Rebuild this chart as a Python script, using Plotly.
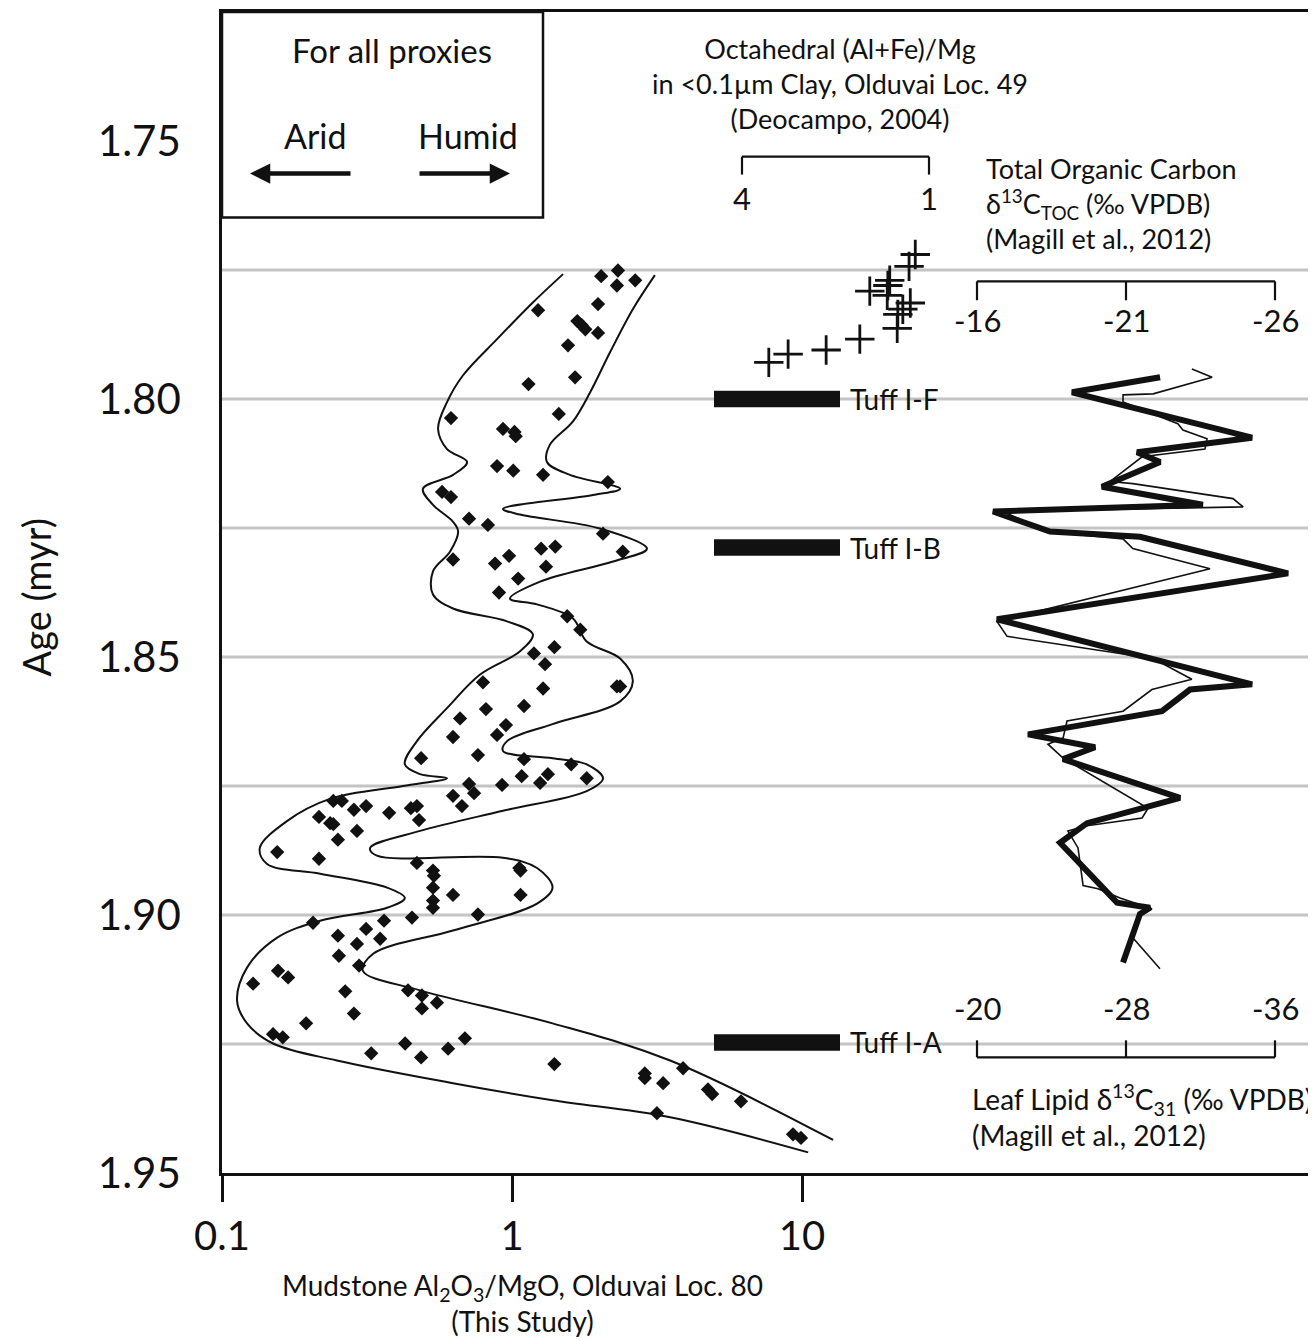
import plotly.graph_objects as go

# ---------------- DATA ----------------
# Mudstone Al2O3/MgO (Olduvai Loc. 80) - scatter
mud_ratio = [2.32, 2.03, 2.66, 2.30, 1.23, 1.98, 1.68, 1.74, 1.79, 1.98,
             1.56, 1.65, 1.14, 1.45, 0.616, 0.931, 1.02, 1.03, 0.888, 1.01,
             1.28, 2.14, 0.574, 0.616, 0.711, 0.826, 2.06, 1.41, 1.26, 2.41,
             0.626, 0.977, 0.874, 1.31, 1.05, 0.902, 1.55, 1.72, 1.40, 1.19,
             1.30, 0.794, 1.28, 2.30, 2.36, 0.813, 1.10, 0.662, 0.953, 0.888,
             0.626, 0.486, 0.763, 1.10, 1.60, 1.81, 1.33, 1.08, 1.25, 0.924,
             0.711, 0.740, 0.626, 0.672, 0.242, 0.259, 0.285, 0.314, 0.377, 0.448,
             0.470, 0.478, 0.216, 0.236, 0.242, 0.292, 0.251, 0.155, 0.216, 0.470,
             0.534, 0.538, 0.534, 0.626, 1.06, 1.07, 1.07, 0.534, 0.534, 0.452,
             0.763, 0.206, 0.362, 0.314, 0.251, 0.351, 0.292, 0.253, 0.297, 0.156,
             0.169, 0.128, 0.266, 0.438, 0.489, 0.551, 0.489, 0.285, 0.195, 0.150,
             0.162, 0.688, 0.428, 0.602, 0.327, 0.486, 1.40, 2.87, 2.87, 3.32,
             3.16, 3.89, 4.74, 4.90, 6.16, 9.31, 9.92]
mud_age = [1.7751, 1.7762, 1.7770, 1.7780, 1.7828, 1.7816, 1.7849, 1.7857, 1.7865, 1.7872,
           1.7896, 1.7958, 1.7971, 1.8029, 1.8037, 1.8058, 1.8064, 1.8072, 1.8130, 1.8139,
           1.8147, 1.8161, 1.8180, 1.8190, 1.8232, 1.8244, 1.8261, 1.8286, 1.8290, 1.8296,
           1.8311, 1.8304, 1.8319, 1.8325, 1.8348, 1.8375, 1.8421, 1.8447, 1.8481, 1.8493,
           1.8514, 1.8549, 1.8561, 1.8557, 1.8557, 1.8601, 1.8595, 1.8619, 1.8632, 1.8651,
           1.8655, 1.8696, 1.8690, 1.8698, 1.8708, 1.8735, 1.8727, 1.8731, 1.8744, 1.8748,
           1.8746, 1.8764, 1.8769, 1.8789, 1.8779, 1.8779, 1.8796, 1.8789, 1.8802, 1.8793,
           1.8789, 1.8816, 1.8810, 1.8822, 1.8824, 1.8837, 1.8854, 1.8878, 1.8891, 1.8899,
           1.8914, 1.8924, 1.8947, 1.8961, 1.8909, 1.8914, 1.8961, 1.8972, 1.8986, 1.9005,
           1.8999, 1.9015, 1.9011, 1.9027, 1.9040, 1.9046, 1.9056, 1.9079, 1.9098, 1.9108,
           1.9121, 1.9133, 1.9148, 1.9146, 1.9156, 1.9170, 1.9181, 1.9191, 1.9210, 1.9231,
           1.9237, 1.9239, 1.9249, 1.9259, 1.9268, 1.9276, 1.9289, 1.9307, 1.9316, 1.9326,
           1.9384, 1.9297, 1.9338, 1.9347, 1.9361, 1.9425, 1.9432]

# Envelope curves around the mudstone data
env_left_ratio = [1.50, 1.18, 0.888, 0.678, 0.597, 0.556, 0.597, 0.700, 0.626, 0.493,
                  0.534, 0.626, 0.652, 0.611, 0.534, 0.534, 0.626, 0.962, 1.18, 1.066,
                  0.776, 0.597, 0.470, 0.427, 0.482, 0.597, 0.421, 0.2355, 0.1675, 0.135,
                  0.143, 0.218, 0.371, 0.427, 0.371, 0.218, 0.155, 0.122, 0.1127, 0.122,
                  0.150, 0.249, 0.626, 1.38, 3.51, 10.5]
env_left_age = [1.7758, 1.7813, 1.7884, 1.7954, 1.8006, 1.8058, 1.8097, 1.8122, 1.8147, 1.8174,
                1.8205, 1.8238, 1.8257, 1.8296, 1.8334, 1.8379, 1.8406, 1.8431, 1.8456, 1.8489,
                1.8534, 1.8599, 1.8663, 1.8708, 1.8727, 1.8735, 1.8750, 1.8775, 1.8818, 1.8870,
                1.8901, 1.8920, 1.8947, 1.8967, 1.8986, 1.9011, 1.9044, 1.9102, 1.9166, 1.9210,
                1.9249, 1.9282, 1.9326, 1.9359, 1.9392, 1.9460]
env_right_ratio = [3.11, 2.61, 2.18, 1.86, 1.62, 1.35, 1.32, 1.585, 2.36, 1.90,
                   0.931, 1.066, 2.01, 2.92, 2.23, 1.25, 0.984, 1.22, 1.62, 1.81,
                   2.36, 2.61, 2.36, 1.38, 0.962, 0.931, 1.38, 1.81, 2.06, 1.81,
                   0.931, 0.482, 0.324, 0.342, 0.931, 1.22, 1.38, 1.22, 0.626, 0.332,
                   0.306, 0.482, 1.38, 3.51, 12.8]
env_right_age = [1.7760, 1.7826, 1.7909, 1.7987, 1.8044, 1.8089, 1.8122, 1.8147, 1.8174, 1.8186,
                 1.8213, 1.8224, 1.8251, 1.8290, 1.8315, 1.8354, 1.8387, 1.8398, 1.8425, 1.8470,
                 1.8503, 1.8547, 1.8586, 1.8630, 1.8663, 1.8682, 1.8696, 1.8708, 1.8735, 1.8760,
                 1.8798, 1.8837, 1.8870, 1.8885, 1.8889, 1.8909, 1.8947, 1.8978, 1.9030, 1.9075,
                 1.9108, 1.9146, 1.9210, 1.9282, 1.9436]

# Octahedral (Al+Fe)/Mg, Olduvai Loc. 49 (Deocampo, 2004)
octa_ratio = [1.22, 1.32, 1.63, 1.66, 1.95, 1.67, 1.30, 1.42, 1.50, 1.51, 2.11, 2.65, 3.26, 3.57]
octa_age = [1.7720, 1.7743, 1.7770, 1.7780, 1.7791, 1.7799, 1.7814, 1.7826, 1.7836, 1.7863,
            1.7884, 1.7905, 1.7913, 1.7929]

# Total organic carbon d13C (thin line)
toc_d13c = [-23.21, -23.89, -21.91, -20.90, -20.90, -22.74, -22.91, -23.72, -23.65, -21.54,
            -20.46, -21.23, -24.59, -24.93, -16.87, -18.35, -20.90, -21.23, -23.82, -16.67,
            -17.01, -21.91, -23.21, -21.87, -20.90, -19.02, -18.89, -18.38, -18.89, -21.74,
            -21.54, -19.69, -19.05, -19.39, -19.56, -20.06, -20.80, -21.87, -21.37, -21.23,
            -22.14]
toc_age = [1.7942, 1.7958, 1.7990, 1.7992, 1.8006, 1.8048, 1.8060, 1.8077, 1.8097, 1.8112,
           1.8160, 1.8164, 1.8193, 1.8209, 1.8218, 1.8257, 1.8271, 1.8290, 1.8329, 1.8431,
           1.8460, 1.8503, 1.8543, 1.8563, 1.8605, 1.8624, 1.8657, 1.8669, 1.8696, 1.8793,
           1.8812, 1.8827, 1.8837, 1.8870, 1.8943, 1.8949, 1.8967, 1.8988, 1.9005, 1.9044,
           1.9104]

# Leaf lipid d13C31 (thick line)
leaf_d13c = [-29.83, -25.10, -34.77, -28.59, -29.83, -26.71, -32.13, -20.86, -23.92, -28.75,
             -36.70, -21.07, -34.77, -31.44, -29.93, -22.74, -26.34, -24.62, -30.90, -25.91,
             -24.46, -27.52, -29.29, -28.75, -27.84]
leaf_age = [1.7958, 1.7987, 1.8075, 1.8103, 1.8122, 1.8170, 1.8205, 1.8218, 1.8257, 1.8267,
            1.8338, 1.8427, 1.8553, 1.8563, 1.8605, 1.8650, 1.8675, 1.8698, 1.8773, 1.8822,
            1.8860, 1.8976, 1.8986, 1.8998, 1.9092]

# Tuffs
tuff_names = ["Tuff I-F", "Tuff I-B", "Tuff I-A"]
tuff_ages = [1.800, 1.8288, 1.9247]

# Axis ticks
age_ticks = [1.75, 1.80, 1.85, 1.90, 1.95]
grid_ages = [1.775, 1.800, 1.825, 1.850, 1.875, 1.900, 1.925]
mud_ticks = [0.1, 1, 10]
mud_tick_text = ["0.1", "1", "10"]
octa_ticks = [4, 1]
toc_ticks = [-16, -21, -26]
leaf_ticks = [-20, -28, -36]

# ---------------- LAYOUT HELPERS ----------------
PAGE_W, PAGE_H = 1316, 1340
PAGE_OFF = 8                     # default body margin of the html page
W, H = PAGE_W - PAGE_OFF, PAGE_H - PAGE_OFF
# plot-area edges in page pixels
L_PX, R_PX, T_PX, B_PX = 222, 1308, 9, 1173
FONT = "Lato"
BLACK = "#111111"


def xp(px):
    return (px - L_PX) / (R_PX - L_PX)


def yp(py):
    return 1 - (py - T_PX) / (B_PX - T_PX)


def lin_range(v_a, px_a, v_b, px_b):
    s = (v_b - v_a) / (px_b - px_a)
    return [v_a + (L_PX - px_a) * s, v_a + (R_PX - px_a) * s]


PX_PER_DECADE = 290.0

fig = go.Figure()

# envelope curves
for xs, ys in ((env_left_ratio, env_left_age), (env_right_ratio, env_right_age)):
    fig.add_trace(go.Scatter(x=xs, y=ys, mode="lines",
                             line=dict(color=BLACK, width=2, shape="spline", smoothing=1.0),
                             xaxis="x", yaxis="y", showlegend=False, hoverinfo="skip"))

fig.add_trace(go.Scatter(x=mud_ratio, y=mud_age, mode="markers",
                         marker=dict(symbol="diamond", size=11, color=BLACK),
                         xaxis="x", yaxis="y", showlegend=False))

fig.add_trace(go.Scatter(x=octa_ratio, y=octa_age, mode="markers",
                         marker=dict(symbol="cross-thin", size=21,
                                     line=dict(color=BLACK, width=2.8)),
                         xaxis="x2", yaxis="y", showlegend=False))

fig.add_trace(go.Scatter(x=toc_d13c, y=toc_age, mode="lines",
                         line=dict(color=BLACK, width=1.6),
                         xaxis="x3", yaxis="y", showlegend=False))

fig.add_trace(go.Scatter(x=leaf_d13c, y=leaf_age, mode="lines",
                         line=dict(color=BLACK, width=6),
                         xaxis="x4", yaxis="y", showlegend=False))

shapes = []
# horizontal gridlines
for a in grid_ages:
    shapes.append(dict(type="line", xref="paper", yref="y", x0=0, x1=1, y0=a, y1=a,
                       line=dict(color="#c4c4c4", width=3), layer="below"))

# legend box
shapes.append(dict(type="rect", xref="paper", yref="paper", x0=xp(L_PX), x1=xp(543),
                   y0=yp(215), y1=yp(T_PX), line=dict(color=BLACK, width=2.5),
                   fillcolor="white", layer="above"))

# tuff bars
for a in tuff_ages:
    shapes.append(dict(type="rect", xref="paper", yref="y", x0=xp(714), x1=xp(840),
                       y0=a - 0.0016, y1=a + 0.0016, line=dict(width=0),
                       fillcolor=BLACK, layer="above"))


def bracket(xref, ticks, y_line, y_tick):
    out = [dict(type="line", xref=xref, yref="paper", x0=ticks[0], x1=ticks[-1],
                y0=yp(y_line), y1=yp(y_line), line=dict(color=BLACK, width=2.2))]
    for t in ticks:
        out.append(dict(type="line", xref=xref, yref="paper", x0=t, x1=t,
                        y0=yp(y_line), y1=yp(y_tick), line=dict(color=BLACK, width=2.2)))
    return out


shapes += bracket("x2", octa_ticks, 154, 172)
shapes += bracket("x3", toc_ticks, 279, 298)
shapes += bracket("x4", leaf_ticks, 1057, 1040)

ann = []


def text(x, y, s, size, xanchor="center", xref="paper", yref="paper", angle=0, align="center"):
    ann.append(dict(x=x, y=y, xref=xref, yref=yref, text=s, showarrow=False,
                    xanchor=xanchor, yanchor="middle", textangle=angle, align=align,
                    font=dict(family=FONT, size=size, color=BLACK)))


text(xp(392), yp(47), "For all proxies", 33)
text(xp(315), yp(133), "Arid", 34)
text(xp(468), yp(133), "Humid", 34)
# arrows
ann.append(dict(x=xp(250), y=yp(171), xref="paper", yref="paper", text="", showarrow=True,
                ax=102, ay=0, arrowhead=2, arrowsize=0.9, arrowwidth=4.5, arrowcolor=BLACK))
ann.append(dict(x=xp(510), y=yp(171), xref="paper", yref="paper", text="", showarrow=True,
                ax=-92, ay=0, arrowhead=2, arrowsize=0.9, arrowwidth=4.5, arrowcolor=BLACK))

text(xp(840), yp(81), "Octahedral (Al+Fe)/Mg<br>in &lt;0.1µm Clay, Olduvai Loc. 49<br>(Deocampo, 2004)", 27)
text(xp(984), yp(201), "Total Organic Carbon<br>δ<sup>13</sup>C<sub>TOC</sub> (‰ VPDB)<br>(Magill et al., 2012)",
     27, xanchor="left", align="left")
text(xp(970), yp(1115), "Leaf Lipid δ<sup>13</sup>C<sub>31</sub> (‰ VPDB)<br>(Magill et al., 2012)",
     28, xanchor="left", align="left")
text(xp(522), yp(1303), "Mudstone Al<sub>2</sub>O<sub>3</sub>/MgO, Olduvai Loc. 80<br>(This Study)", 28)
text(xp(36), yp(596), "Age (myr)", 38, angle=-90)

for t in octa_ticks:
    text(t, yp(195), str(t), 31, xref="x2")
for t in toc_ticks:
    text(t, yp(318), str(t), 31, xref="x3")
for t in leaf_ticks:
    text(t, yp(1008), str(t), 31, xref="x4")

for name, a in zip(tuff_names, tuff_ages):
    text(xp(848), a, name, 28, xanchor="left", yref="y")

hidden = dict(visible=False, overlaying="x", anchor="y", showgrid=False, zeroline=False)

fig.update_layout(
    width=W, height=H,
    margin=dict(l=L_PX - PAGE_OFF, r=PAGE_W - R_PX, t=T_PX - PAGE_OFF, b=PAGE_H - B_PX),
    paper_bgcolor="white", plot_bgcolor="white",
    font=dict(family=FONT, color=BLACK),
    xaxis=dict(type="log", range=[-1, -1 + (R_PX - L_PX) / PX_PER_DECADE],
               tickvals=mud_ticks, ticktext=mud_tick_text,
               ticks="outside", ticklen=26, tickwidth=2.5, tickcolor=BLACK,
               tickfont=dict(size=40, family=FONT, color=BLACK),
               showline=True, linecolor=BLACK, linewidth=2.5, mirror=True,
               showgrid=False, zeroline=False),
    xaxis2=dict(range=lin_range(4, 742, 1, 929), **hidden),
    xaxis3=dict(range=lin_range(-16, 977, -26, 1275), **hidden),
    xaxis4=dict(range=lin_range(-20, 977, -36, 1275), **hidden),
    yaxis=dict(range=[1.95, 1.725], tickvals=age_ticks, tickformat=".2f",
               ticks="", ticklabelstandoff=30,
               tickfont=dict(size=42, family=FONT, color=BLACK),
               showline=True, linecolor=BLACK, linewidth=2.5,
               showgrid=False, zeroline=False),
    shapes=shapes,
    annotations=ann,
)

fig.write_html("out.html")
